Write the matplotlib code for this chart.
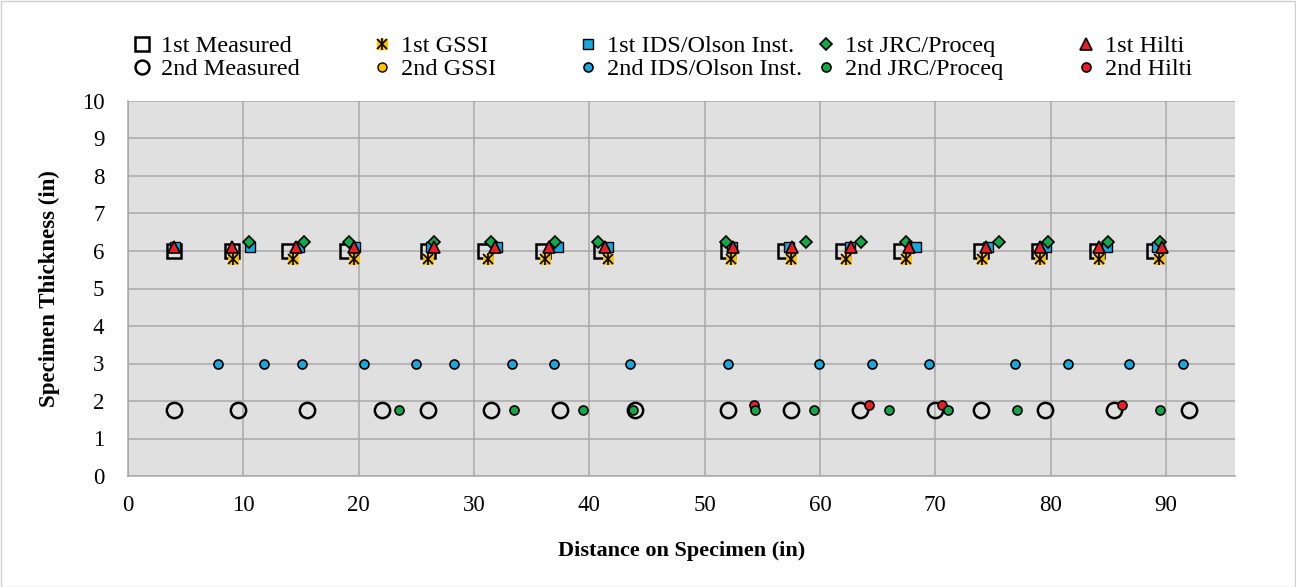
import matplotlib
matplotlib.use('Agg')
import matplotlib.pyplot as plt
from matplotlib.lines import Line2D
from matplotlib.legend_handler import HandlerTuple
from matplotlib.patches import Rectangle

plt.rcParams['font.family'] = ['Liberation Serif', 'DejaVu Serif']

# ---- data ----
x_meas1 = [4, 9, 14, 19, 26, 31, 36, 41, 52, 57, 62, 67, 74, 79, 84, 89]
y_meas1 = [6, 6, 6, 6, 6, 6, 6, 6, 6, 6, 6, 6, 6, 6, 6, 6]
x_gssi1 = [9.1, 14.3, 19.6, 26.0, 31.2, 36.2, 41.6, 52.3, 57.5, 62.3, 67.5, 74.1, 79.1, 84.2, 89.4]
y_gssi1 = [5.8, 5.8, 5.8, 5.8, 5.8, 5.8, 5.8, 5.8, 5.8, 5.8, 5.8, 5.8, 5.8, 5.8, 5.8]
x_ids1 = [4.1, 10.6, 14.8, 19.7, 26.3, 32.0, 37.3, 41.6, 52.4, 57.3, 62.6, 68.3, 74.6, 79.6, 84.9, 89.2]
y_ids1 = [6.1, 6.1, 6.1, 6.1, 6.1, 6.1, 6.1, 6.1, 6.1, 6.1, 6.1, 6.1, 6.1, 6.1, 6.1, 6.1]
x_jrc1 = [10.5, 15.3, 19.2, 26.5, 31.5, 37.0, 40.8, 51.9, 58.8, 63.6, 67.5, 75.5, 79.8, 85.0, 89.5]
y_jrc1 = [6.25, 6.25, 6.25, 6.25, 6.25, 6.25, 6.25, 6.25, 6.25, 6.25, 6.25, 6.25, 6.25, 6.25, 6.25]
x_hilti1 = [4.0, 9.0, 14.6, 19.6, 26.5, 31.8, 36.5, 41.4, 52.5, 57.6, 62.7, 67.7, 74.4, 79.1, 84.2, 89.7]
y_hilti1 = [6.1, 6.1, 6.1, 6.1, 6.1, 6.1, 6.1, 6.1, 6.1, 6.1, 6.1, 6.1, 6.1, 6.1, 6.1, 6.1]

x_meas2 = [4, 9.5, 15.5, 22, 26, 31.5, 37.5, 44, 52, 57.5, 63.5, 70, 74, 79.5, 85.5, 92]
y_meas2 = [1.75, 1.75, 1.75, 1.75, 1.75, 1.75, 1.75, 1.75, 1.75, 1.75, 1.75, 1.75, 1.75, 1.75, 1.75, 1.75]
x_gssi2 = []
y_gssi2 = []
x_ids2 = [7.8, 11.8, 15.1, 20.5, 25.0, 28.3, 33.3, 36.9, 43.5, 52.0, 59.9, 64.5, 69.5, 76.9, 81.5, 86.8, 91.5]
y_ids2 = [3, 3, 3, 3, 3, 3, 3, 3, 3, 3, 3, 3, 3, 3, 3, 3, 3]
x_jrc2 = [23.5, 33.5, 39.5, 43.8, 54.4, 59.5, 66.0, 71.1, 77.1, 89.5]
y_jrc2 = [1.75, 1.75, 1.75, 1.75, 1.75, 1.75, 1.75, 1.75, 1.75, 1.75]
x_hilti2 = [54.3, 64.3, 70.6, 86.2]
y_hilti2 = [1.9, 1.9, 1.9, 1.9]

labels = ['1st Measured', '2nd Measured', '1st GSSI', '2nd GSSI',
          '1st IDS/Olson Inst.', '2nd IDS/Olson Inst.', '1st JRC/Proceq',
          '2nd JRC/Proceq', '1st Hilti', '2nd Hilti']
x_ticks = [0, 10, 20, 30, 40, 50, 60, 70, 80, 90]
y_ticks = [0, 1, 2, 3, 4, 5, 6, 7, 8, 9, 10]

BLUE = '#19A7E0'
GREEN = '#13A84A'
RED = '#EE1C25'
YELLOW = '#FFC000'

W, H = 1296, 587
fig = plt.figure(figsize=(W / 100, H / 100), dpi=100)
ax = fig.add_axes([128 / W, 1 - 476 / H, (1235 - 128) / W, (476 - 101) / H])
ax.set_facecolor('#E0E0E0')

ax.plot(x_meas1, y_meas1, ls='none', marker='s', ms=10, mfc='none', mec='black', mew=1.8, zorder=3)
ax.plot(x_meas2, y_meas2, ls='none', marker='o', ms=11, mfc='none', mec='black', mew=1.8, zorder=3)

ax.plot(x_gssi1, y_gssi1, ls='none', marker='s', ms=7.5, mfc=YELLOW, mec=YELLOW, mew=0.5, zorder=4)
ax.plot(x_gssi1, y_gssi1, ls='none', marker='x', ms=7, mec='black', mew=1.2, zorder=4.1)
ax.plot(x_gssi1, y_gssi1, ls='none', marker='|', ms=8, mec='black', mew=1.2, zorder=4.1)
ax.plot(x_gssi2, y_gssi2, ls='none', marker='o', ms=6.5, mfc=YELLOW, mec='black', mew=1, zorder=4)

ax.plot(x_ids1, y_ids1, ls='none', marker='s', ms=7.5, mfc=BLUE, mec='black', mew=1, zorder=5)
ax.plot(x_ids2, y_ids2, ls='none', marker='o', ms=6.5, mfc=BLUE, mec='black', mew=1.2, zorder=5)

ax.plot(x_jrc1, y_jrc1, ls='none', marker='D', ms=6.5, mfc=GREEN, mec='black', mew=1.2, zorder=6)
ax.plot(x_hilti2, y_hilti2, ls='none', marker='o', ms=6.5, mfc=RED, mec='black', mew=1.2, zorder=6)
ax.plot(x_hilti1, y_hilti1, ls='none', marker='^', ms=8, mfc=RED, mec='black', mew=1.2, zorder=7)
ax.plot(x_jrc2, y_jrc2, ls='none', marker='o', ms=6.5, mfc=GREEN, mec='black', mew=1.2, zorder=7)

ax.set_xlim(0, 96)
ax.set_ylim(0, 10)
ax.set_xticks(x_ticks)
ax.set_yticks(y_ticks)
ax.tick_params(length=0, labelsize=16.5)
ax.tick_params(axis='x', pad=14)
ax.tick_params(axis='y', pad=17)
ax.grid(True, color='#A8A8A8', lw=1.1)
ax.set_axisbelow(True)
for s in ['top', 'right']:
    ax.spines[s].set_visible(False)
for s in ['left', 'bottom']:
    ax.spines[s].set_color('#A8A8A8')
    ax.spines[s].set_linewidth(1.1)

ax.set_xlabel('Distance on Specimen (in)', fontsize=16, fontweight='bold', labelpad=18)
ax.set_ylabel('Specimen Thickness (in)', fontsize=16.5, fontweight='bold', labelpad=16)

# legend handles
h_meas1 = Line2D([], [], ls='none', marker='s', ms=10, mfc='none', mec='black', mew=1.8)
h_meas2 = Line2D([], [], ls='none', marker='o', ms=10, mfc='none', mec='black', mew=1.8)
h_g1a = Line2D([], [], ls='none', marker='s', ms=7.5, mfc=YELLOW, mec=YELLOW)
h_g1b = Line2D([], [], ls='none', marker='x', ms=7, mec='black', mew=1.2)
h_g1c = Line2D([], [], ls='none', marker='|', ms=8, mec='black', mew=1.2)
h_gssi2 = Line2D([], [], ls='none', marker='o', ms=6.5, mfc=YELLOW, mec='black', mew=1)
h_ids1 = Line2D([], [], ls='none', marker='s', ms=7.5, mfc=BLUE, mec='black', mew=1)
h_ids2 = Line2D([], [], ls='none', marker='o', ms=6.5, mfc=BLUE, mec='black', mew=1.2)
h_jrc1 = Line2D([], [], ls='none', marker='D', ms=6.5, mfc=GREEN, mec='black', mew=1.2)
h_jrc2 = Line2D([], [], ls='none', marker='o', ms=6.5, mfc=GREEN, mec='black', mew=1.2)
h_hil1 = Line2D([], [], ls='none', marker='^', ms=8, mfc=RED, mec='black', mew=1.2)
h_hil2 = Line2D([], [], ls='none', marker='o', ms=6.5, mfc=RED, mec='black', mew=1.2)

handles = [h_meas1, h_meas2, (h_g1a, h_g1b, h_g1c), h_gssi2, h_ids1, h_ids2,
           h_jrc1, h_jrc2, h_hil1, h_hil2]
col_x = [129, 369, 575, 813, 1073]
for i, cx in enumerate(col_x):
    fig.legend(handles[2 * i:2 * i + 2], labels[2 * i:2 * i + 2],
               loc='upper left', bbox_to_anchor=(cx / W, 1 - 35 / H),
               frameon=False, fontsize=17.5, handlelength=1.1, handletextpad=0.2,
               borderpad=0, borderaxespad=0, labelspacing=0.05,
               handler_map={tuple: HandlerTuple(ndivide=1, pad=0)})

fig.patches.append(Rectangle((0.5 / W, 0.5 / H), 1 - 1.5 / W, 1 - 1.5 / H,
                             transform=fig.transFigure, fill=False,
                             edgecolor='#D0D0D0', lw=1))

fig.savefig('out.png', dpi=100)
